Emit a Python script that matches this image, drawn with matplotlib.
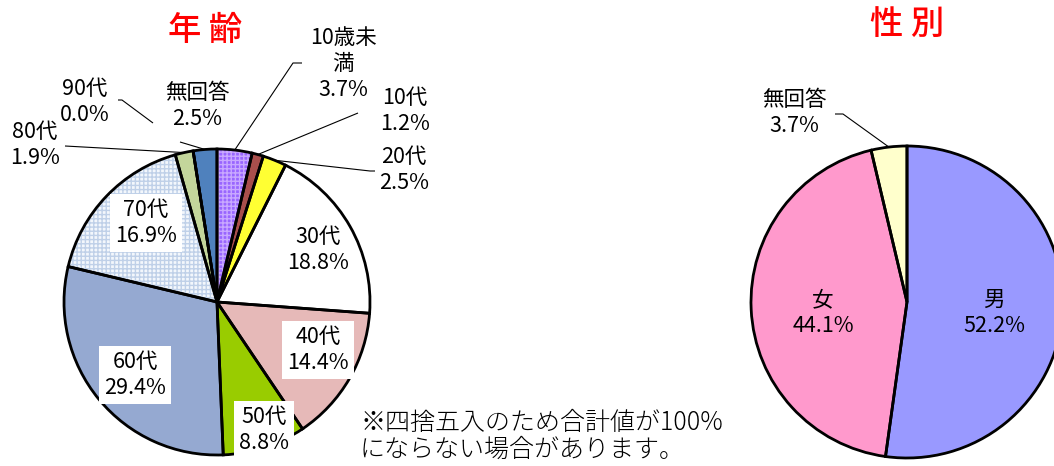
import numpy as np
import matplotlib
matplotlib.use("Agg")
import matplotlib.pyplot as plt

plt.rcParams["font.family"] = ["Noto Sans CJK JP", "DejaVu Sans"]

# data: age
AGE_LABELS = ["10歳未\n満", "10代", "20代", "30代", "40代", "50代",
              "60代", "70代", "80代", "90代", "無回答"]
AGE_VALUES = [3.7, 1.2, 2.5, 18.8, 14.4, 8.8, 29.4, 16.9, 1.9, 0.0, 2.5]
AGE_COLORS = ["#9966FF", "#A94F4C", "#FFFF33", "#FFFFFF", "#E6B9B8",
              "#99CC00", "#95A9D1", "#F3F7FC", "#C3D69B", "#FFFFFF", "#4F81BD"]
AGE_HATCH = {0: "#C9A9FF", 7: "#BFD0E8"}

# data: sex
SEX_LABELS = ["男", "女", "無回答"]
SEX_VALUES = [52.2, 44.1, 3.7]
SEX_COLORS = ["#9999FF", "#FF99CC", "#FFFFCC"]

NOTE = "※四捨五入のため合計値が100%\nにならない場合があります。"

# layout (pixels)
W, H = 1054, 466
AGE_CENTER, AGE_R = (217, 302), 153
SEX_CENTER, SEX_R = (907, 302), 156
FS = 15.5
LS = 1.22

AGE_LABEL_POS = {
    0: (343, 64), 1: (405, 111), 2: (404, 170), 3: (318, 250),
    4: (318, 350), 5: (264, 430), 6: (135, 375), 7: (146, 223),
    8: (35, 145), 9: (85, 102), 10: (197, 106),
}
AGE_BOXED = {4, 5, 6, 7}
# leader elbows: start taken from wedge edge
AGE_LEADERS = {
    0: [(293, 63), (302, 63)],
    1: [(358, 113)],
    2: [(370, 171), (375, 171)],
    8: [(65, 146)],
    10: [(180, 142)],
}
NINETY_LEADER = [(153, 123), (122, 100), (118, 100)]

SEX_LABEL_POS = {0: (994, 313), 1: (823, 313), 2: (794, 113)}
SEX_LEADERS = {2: [(843, 114), (835, 114)]}


def wedge_point(w, center, r):
    mid = np.deg2rad((w.theta1 + w.theta2) / 2)
    return center[0] + r * np.cos(mid), center[1] + r * np.sin(mid)


def draw_pie(ax, values, colors, center, r, hatch=None):
    wedges, _ = ax.pie(values, colors=colors, center=center, radius=r,
                       startangle=-90, counterclock=True,
                       wedgeprops=dict(linewidth=0))
    hatch = hatch or {}
    for i, w in enumerate(wedges):
        if i in hatch:
            w.set_hatch("++++")
            w.set_edgecolor(hatch[i])
    ax.pie(values, center=center, radius=r, startangle=-90, counterclock=True,
           wedgeprops=dict(fill=False, edgecolor="black", linewidth=2))
    return wedges


fig = plt.figure(figsize=(W / 100, H / 100), dpi=100)
ax = fig.add_axes([0, 0, 1, 1])
plt.rcParams["hatch.linewidth"] = 1.0

age_w = draw_pie(ax, AGE_VALUES, AGE_COLORS, AGE_CENTER, AGE_R, AGE_HATCH)
sex_w = draw_pie(ax, SEX_VALUES, SEX_COLORS, SEX_CENTER, SEX_R)

ax.set_xlim(0, W)
ax.set_ylim(H, 0)
ax.set_aspect("equal")
ax.axis("off")

lead_kw = dict(color="black", linewidth=0.8, solid_capstyle="butt")

for i, (lab, val) in enumerate(zip(AGE_LABELS, AGE_VALUES)):
    x, y = AGE_LABEL_POS[i]
    bbox = None
    if i in AGE_BOXED:
        bbox = dict(boxstyle="square,pad=0.25", fc="white", ec="none")
    ax.text(x, y, f"{lab}\n{val:.1f}%", ha="center", va="center",
            fontsize=FS, linespacing=LS, bbox=bbox)
    if i in AGE_LEADERS:
        sx, sy = wedge_point(age_w[i], AGE_CENTER, AGE_R)
        pts = [(sx, sy)] + AGE_LEADERS[i]
        ax.plot([p[0] for p in pts], [p[1] for p in pts], **lead_kw)
ax.plot([p[0] for p in NINETY_LEADER], [p[1] for p in NINETY_LEADER], **lead_kw)

for i, (lab, val) in enumerate(zip(SEX_LABELS, SEX_VALUES)):
    x, y = SEX_LABEL_POS[i]
    ax.text(x, y, f"{lab}\n{val:.1f}%", ha="center", va="center",
            fontsize=FS, linespacing=LS)
    if i in SEX_LEADERS:
        sx, sy = wedge_point(sex_w[i], SEX_CENTER, SEX_R)
        pts = [(sx, sy)] + SEX_LEADERS[i]
        ax.plot([p[0] for p in pts], [p[1] for p in pts], **lead_kw)

ax.text(205, 30, "年 齢", ha="center", va="center", fontsize=24,
        fontweight="medium", color="#FF0000")
ax.text(907, 24, "性 別", ha="center", va="center", fontsize=24,
        fontweight="medium", color="#FF0000")
ax.text(360, 436, NOTE, ha="left", va="center", fontsize=18,
        linespacing=1.0, fontweight="light")

fig.savefig("out.png", dpi=100)
